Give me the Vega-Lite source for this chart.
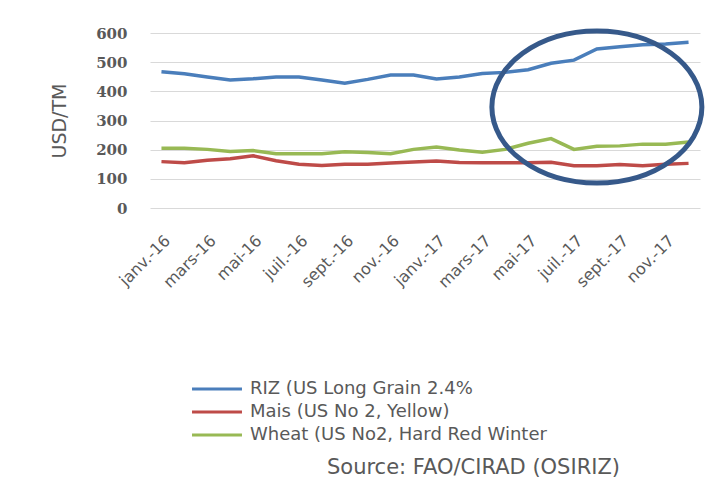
{
  "$schema": "https://vega.github.io/schema/vega-lite/v6.json",
  "width": 550,
  "height": 175,
  "autosize": {"type": "none"},
  "padding": {"left": 150, "top": 33, "right": 27, "bottom": 277},
  "background": "white",
  "config": {"view": {"stroke": null}},
  "title": {
    "text": "Source: FAO/CIRAD (OSIRIZ)",
    "orient": "bottom",
    "frame": "group",
    "anchor": "end",
    "offset": 13,
    "dx": -80,
    "font": "DejaVu Sans",
    "fontSize": 21,
    "fontWeight": "normal",
    "color": "#595959"
  },
  "datasets": {
    "prices": [
      {"mois": "janv.-16", "serie": "RIZ (US Long Grain 2.4%", "prix": 467},
      {"mois": "févr.-16", "serie": "RIZ (US Long Grain 2.4%", "prix": 460},
      {"mois": "mars-16", "serie": "RIZ (US Long Grain 2.4%", "prix": 449},
      {"mois": "avr.-16", "serie": "RIZ (US Long Grain 2.4%", "prix": 439},
      {"mois": "mai-16", "serie": "RIZ (US Long Grain 2.4%", "prix": 443},
      {"mois": "juin-16", "serie": "RIZ (US Long Grain 2.4%", "prix": 449},
      {"mois": "juil.-16", "serie": "RIZ (US Long Grain 2.4%", "prix": 449},
      {"mois": "août-16", "serie": "RIZ (US Long Grain 2.4%", "prix": 439},
      {"mois": "sept.-16", "serie": "RIZ (US Long Grain 2.4%", "prix": 428},
      {"mois": "oct.-16", "serie": "RIZ (US Long Grain 2.4%", "prix": 441},
      {"mois": "nov.-16", "serie": "RIZ (US Long Grain 2.4%", "prix": 456},
      {"mois": "déc.-16", "serie": "RIZ (US Long Grain 2.4%", "prix": 456},
      {"mois": "janv.-17", "serie": "RIZ (US Long Grain 2.4%", "prix": 442},
      {"mois": "févr.-17", "serie": "RIZ (US Long Grain 2.4%", "prix": 449},
      {"mois": "mars-17", "serie": "RIZ (US Long Grain 2.4%", "prix": 461},
      {"mois": "avr.-17", "serie": "RIZ (US Long Grain 2.4%", "prix": 465},
      {"mois": "mai-17", "serie": "RIZ (US Long Grain 2.4%", "prix": 474},
      {"mois": "juin-17", "serie": "RIZ (US Long Grain 2.4%", "prix": 496},
      {"mois": "juil.-17", "serie": "RIZ (US Long Grain 2.4%", "prix": 507},
      {"mois": "août-17", "serie": "RIZ (US Long Grain 2.4%", "prix": 545},
      {"mois": "sept.-17", "serie": "RIZ (US Long Grain 2.4%", "prix": 553},
      {"mois": "oct.-17", "serie": "RIZ (US Long Grain 2.4%", "prix": 560},
      {"mois": "nov.-17", "serie": "RIZ (US Long Grain 2.4%", "prix": 562},
      {"mois": "déc.-17", "serie": "RIZ (US Long Grain 2.4%", "prix": 568},
      {"mois": "janv.-16", "serie": "Mais (US No 2, Yellow)", "prix": 159},
      {"mois": "févr.-16", "serie": "Mais (US No 2, Yellow)", "prix": 155},
      {"mois": "mars-16", "serie": "Mais (US No 2, Yellow)", "prix": 164},
      {"mois": "avr.-16", "serie": "Mais (US No 2, Yellow)", "prix": 169},
      {"mois": "mai-16", "serie": "Mais (US No 2, Yellow)", "prix": 179},
      {"mois": "juin-16", "serie": "Mais (US No 2, Yellow)", "prix": 162},
      {"mois": "juil.-16", "serie": "Mais (US No 2, Yellow)", "prix": 150},
      {"mois": "août-16", "serie": "Mais (US No 2, Yellow)", "prix": 146},
      {"mois": "sept.-16", "serie": "Mais (US No 2, Yellow)", "prix": 150},
      {"mois": "oct.-16", "serie": "Mais (US No 2, Yellow)", "prix": 150},
      {"mois": "nov.-16", "serie": "Mais (US No 2, Yellow)", "prix": 154},
      {"mois": "déc.-16", "serie": "Mais (US No 2, Yellow)", "prix": 158},
      {"mois": "janv.-17", "serie": "Mais (US No 2, Yellow)", "prix": 161},
      {"mois": "févr.-17", "serie": "Mais (US No 2, Yellow)", "prix": 156},
      {"mois": "mars-17", "serie": "Mais (US No 2, Yellow)", "prix": 155},
      {"mois": "avr.-17", "serie": "Mais (US No 2, Yellow)", "prix": 155},
      {"mois": "mai-17", "serie": "Mais (US No 2, Yellow)", "prix": 155},
      {"mois": "juin-17", "serie": "Mais (US No 2, Yellow)", "prix": 157},
      {"mois": "juil.-17", "serie": "Mais (US No 2, Yellow)", "prix": 145},
      {"mois": "août-17", "serie": "Mais (US No 2, Yellow)", "prix": 145},
      {"mois": "sept.-17", "serie": "Mais (US No 2, Yellow)", "prix": 149},
      {"mois": "oct.-17", "serie": "Mais (US No 2, Yellow)", "prix": 145},
      {"mois": "nov.-17", "serie": "Mais (US No 2, Yellow)", "prix": 150},
      {"mois": "déc.-17", "serie": "Mais (US No 2, Yellow)", "prix": 153},
      {"mois": "janv.-16", "serie": "Wheat (US No2, Hard Red Winter", "prix": 205},
      {"mois": "févr.-16", "serie": "Wheat (US No2, Hard Red Winter", "prix": 205},
      {"mois": "mars-16", "serie": "Wheat (US No2, Hard Red Winter", "prix": 201},
      {"mois": "avr.-16", "serie": "Wheat (US No2, Hard Red Winter", "prix": 194},
      {"mois": "mai-16", "serie": "Wheat (US No2, Hard Red Winter", "prix": 197},
      {"mois": "juin-16", "serie": "Wheat (US No2, Hard Red Winter", "prix": 186},
      {"mois": "juil.-16", "serie": "Wheat (US No2, Hard Red Winter", "prix": 186},
      {"mois": "août-16", "serie": "Wheat (US No2, Hard Red Winter", "prix": 186},
      {"mois": "sept.-16", "serie": "Wheat (US No2, Hard Red Winter", "prix": 193},
      {"mois": "oct.-16", "serie": "Wheat (US No2, Hard Red Winter", "prix": 190},
      {"mois": "nov.-16", "serie": "Wheat (US No2, Hard Red Winter", "prix": 186},
      {"mois": "déc.-16", "serie": "Wheat (US No2, Hard Red Winter", "prix": 201},
      {"mois": "janv.-17", "serie": "Wheat (US No2, Hard Red Winter", "prix": 209},
      {"mois": "févr.-17", "serie": "Wheat (US No2, Hard Red Winter", "prix": 199},
      {"mois": "mars-17", "serie": "Wheat (US No2, Hard Red Winter", "prix": 191},
      {"mois": "avr.-17", "serie": "Wheat (US No2, Hard Red Winter", "prix": 201},
      {"mois": "mai-17", "serie": "Wheat (US No2, Hard Red Winter", "prix": 222},
      {"mois": "juin-17", "serie": "Wheat (US No2, Hard Red Winter", "prix": 238},
      {"mois": "juil.-17", "serie": "Wheat (US No2, Hard Red Winter", "prix": 201},
      {"mois": "août-17", "serie": "Wheat (US No2, Hard Red Winter", "prix": 212},
      {"mois": "sept.-17", "serie": "Wheat (US No2, Hard Red Winter", "prix": 213},
      {"mois": "oct.-17", "serie": "Wheat (US No2, Hard Red Winter", "prix": 219},
      {"mois": "nov.-17", "serie": "Wheat (US No2, Hard Red Winter", "prix": 219},
      {"mois": "déc.-17", "serie": "Wheat (US No2, Hard Red Winter", "prix": 226}
    ],
    "ellipse": [
      {"mois": "août-17", "prix": 346}
    ]
  },
  "encoding": {
    "x": {
      "field": "mois",
      "type": "ordinal",
      "sort": ["janv.-16","févr.-16","mars-16","avr.-16","mai-16","juin-16","juil.-16","août-16","sept.-16","oct.-16","nov.-16","déc.-16","janv.-17","févr.-17","mars-17","avr.-17","mai-17","juin-17","juil.-17","août-17","sept.-17","oct.-17","nov.-17","déc.-17"],
      "title": null,
      "axis": {
        "values": ["janv.-16","mars-16","mai-16","juil.-16","sept.-16","nov.-16","janv.-17","mars-17","mai-17","juil.-17","sept.-17","nov.-17"],
        "labelAngle": -45,
        "labelFont": "DejaVu Sans",
        "labelFontSize": 16,
        "labelColor": "#595959",
        "labelPadding": 24,
        "labelDx": 5,
        "labelOverlap": false,
        "domain": false,
        "ticks": false,
        "grid": false
      }
    },
    "y": {
      "field": "prix",
      "type": "quantitative",
      "scale": {"domain": [0, 600]},
      "title": "USD/TM",
      "axis": {
        "values": [0, 100, 200, 300, 400, 500, 600],
        "tickCount": 7,
        "labelFont": "DejaVu Serif",
        "labelFontWeight": "bold",
        "labelFontSize": 15,
        "labelColor": "#595959",
        "labelPadding": 23,
        "labelOverlap": false,
        "titleFont": "DejaVu Sans",
        "titleFontSize": 19,
        "titleFontWeight": "normal",
        "titleColor": "#595959",
        "titlePadding": 26,
        "domain": false,
        "ticks": false,
        "gridColor": "#D9D9D9",
        "gridWidth": 1
      }
    }
  },
  "layer": [
    {
      "data": {"name": "prices"},
      "mark": {"type": "line", "strokeWidth": 3.5},
      "encoding": {
        "color": {
          "field": "serie",
          "type": "nominal",
          "sort": ["RIZ (US Long Grain 2.4%", "Mais (US No 2, Yellow)", "Wheat (US No2, Hard Red Winter"],
          "scale": {
            "domain": ["RIZ (US Long Grain 2.4%", "Mais (US No 2, Yellow)", "Wheat (US No2, Hard Red Winter"],
            "range": ["#4A7EBB", "#BE4B48", "#98B954"]
          },
          "legend": {
            "title": null,
            "orient": "none",
            "legendX": 58,
            "legendY": 347,
            "symbolType": "M -4 0 L 4 0",
            "symbolSize": 156,
            "symbolStrokeWidth": 3,
            "labelFont": "DejaVu Sans",
            "labelFontSize": 18,
            "labelColor": "#595959",
            "labelOffset": 24,
            "rowPadding": 5,
            "labelLimit": 400
          }
        }
      }
    },
    {
      "data": {"name": "ellipse"},
      "mark": {
        "type": "point",
        "shape": "M -1 0 C -1 -0.4 -0.552 -0.724 0 -0.724 C 0.552 -0.724 1 -0.4 1 0 C 1 0.4 0.552 0.724 0 0.724 C -0.552 0.724 -1 0.4 -1 0 Z",
        "size": 44100,
        "filled": false,
        "stroke": "#36598A",
        "strokeWidth": 5,
        "opacity": 1
      }
    }
  ]
}
